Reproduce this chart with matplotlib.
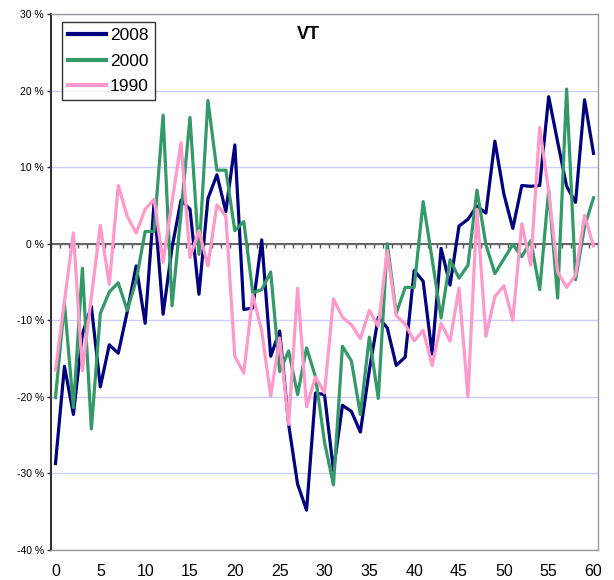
import numpy as np
import matplotlib
matplotlib.use('Agg')
import matplotlib.pyplot as plt

plt.rcParams['font.family'] = ['Liberation Sans', 'DejaVu Sans']

days = list(range(61))

vt_2008 = [-28.7, -16.0, -22.3, -11.8, -8.2, -18.7, -13.2, -14.3, -8.9, -2.9,
           -10.4, 5.4, -9.2, -0.5, 5.7, 4.5, -6.6, 5.9, 9.0, 4.2,
           12.9, -8.6, -8.4, 0.5, -14.7, -11.4, -23.6, -31.4, -34.8, -19.5,
           -19.7, -29.6, -21.1, -21.9, -24.6, -16.5, -9.6, -11.0, -15.9, -14.8,
           -3.5, -4.9, -14.4, -0.6, -5.4, 2.3, 3.2, 4.9, 4.0, 13.4,
           6.5, 2.0, 7.6, 7.5, 7.6, 19.2, 13.3, 7.5, 5.4, 18.8, 11.8]

vt_2000 = [-20.1, -7.8, -21.4, -3.2, -24.2, -9.1, -6.3, -5.1, -8.7, -4.8,
           1.6, 1.6, 16.8, -8.1, 4.0, 16.5, -1.4, 18.7, 9.6, 9.6,
           1.7, 2.9, -6.4, -6.0, -3.7, -16.7, -14.0, -19.7, -13.6, -17.4,
           -25.9, -31.5, -13.4, -15.3, -22.3, -12.2, -20.2, 0.0, -9.1, -5.7,
           -5.7, 5.5, -2.0, -9.7, -2.1, -4.5, -2.8, 7.0, -0.1, -3.9,
           -2.0, -0.1, -1.7, 0.4, -6.0, 7.0, -7.1, 20.2, -4.7, 2.2, 6.0]

vt_1990 = [-16.5, -7.5, 1.4, -16.6, -7.0, 2.4, -5.3, 7.6, 3.6, 1.4,
           4.5, 5.8, -2.4, 5.5, 13.2, -1.8, 1.7, -2.9, 5.1, 3.6,
           -14.7, -16.9, -6.7, -11.4, -19.9, -12.3, -23.6, -5.8, -21.3, -17.4,
           -19.5, -7.2, -9.6, -10.6, -12.4, -8.7, -10.8, -0.9, -9.4, -10.5,
           -12.7, -11.3, -15.9, -10.4, -12.7, -5.8, -20.0, 4.5, -12.1, -6.9,
           -5.5, -10.0, 2.6, -2.8, 15.2, 6.8, -3.7, -5.7, -4.1, 3.7, -0.3]

y_ticks = [-40, -30, -20, -10, 0, 10, 20, 30]
x_ticks = list(range(0, 61, 5))

fig = plt.figure(figsize=(6.14, 5.8), dpi=100)
ax = fig.add_axes([51/614, 1 - 550/580, 547/614, 536/580])

ax.plot(days, vt_2008, color='#000080', lw=2.3, label='2008', zorder=3)
ax.plot(days, vt_2000, color='#339966', lw=2.3, label='2000', zorder=3)
ax.plot(days, vt_1990, color='#ff99cc', lw=2.3, label='1990', zorder=3)

ax.set_xlim(-0.5, 60.5)
ax.set_ylim(-40, 30)
ax.set_yticks(y_ticks)
ax.set_yticklabels([f'{v} %' for v in y_ticks], fontsize=7.5)
ax.set_xticks(x_ticks)
ax.set_xticklabels([str(v) for v in x_ticks], fontsize=11.5)
ax.tick_params(axis='x', length=0, pad=10)
ax.tick_params(axis='y', length=3, width=1, pad=2, color='#333333')

ax.yaxis.grid(True, color='#ccccff', lw=1)
ax.set_axisbelow(True)

for s in ['top', 'right', 'bottom']:
    ax.spines[s].set_color('#999999')
    ax.spines[s].set_linewidth(1)
ax.spines['left'].set_color('#333333')
ax.spines['left'].set_linewidth(1.5)

# zero line with small category ticks hanging below it
ax.axhline(0, color='#666666', lw=1.5, zorder=2)
zero_y = 40 / 70
ax.vlines(np.arange(-0.5, 61, 1), zero_y - 0.008, zero_y, color='#555555', lw=1,
          transform=ax.get_xaxis_transform(), zorder=2)

ax.text(0.47, 0.961, 'VT', transform=ax.transAxes, ha='center', va='center',
        fontsize=13, fontweight='bold')

leg = ax.legend(loc='upper left', bbox_to_anchor=(0.02, 0.985), borderaxespad=0,
                fontsize=12.5, frameon=True, fancybox=False, handlelength=2.2,
                handletextpad=0.2, labelspacing=0.6, borderpad=0.35)
leg.get_frame().set_edgecolor('black')
leg.get_frame().set_linewidth(1)
for line in leg.get_lines():
    line.set_linewidth(3)

fig.savefig('out.png', dpi=100)
